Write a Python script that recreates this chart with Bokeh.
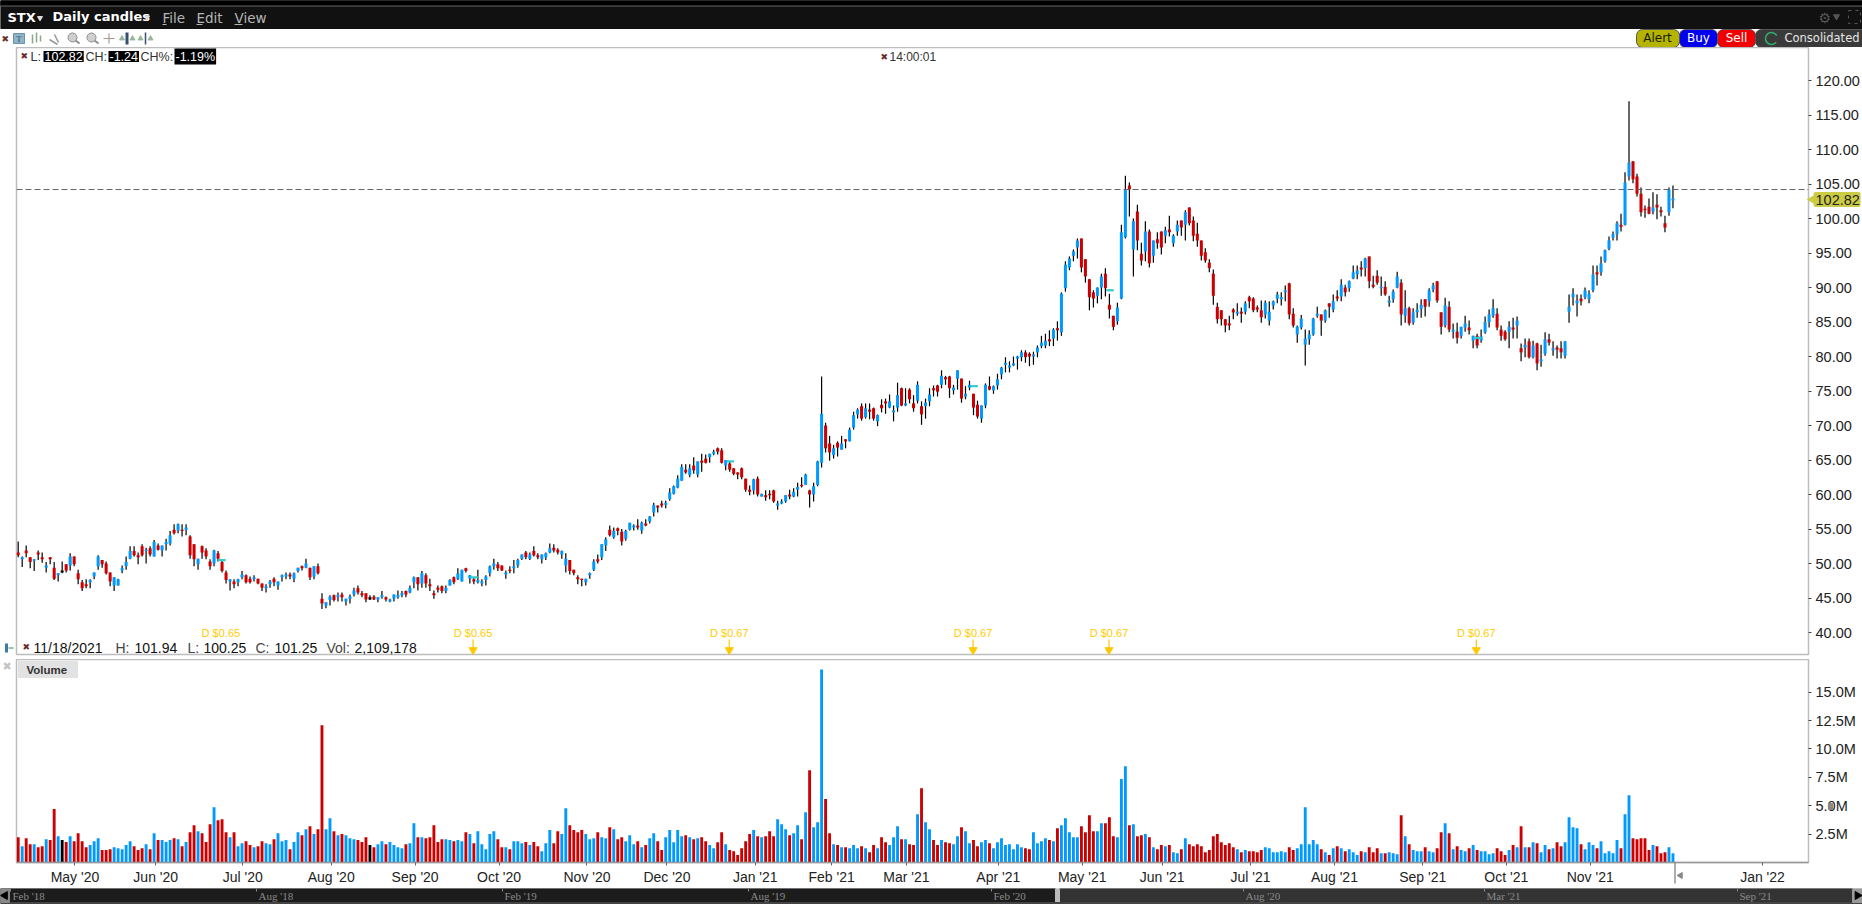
from bokeh.embed import file_html
from bokeh.layouts import column
from bokeh.models import Range1d, FixedTicker, Label, Span
from bokeh.plotting import figure
from bokeh.resources import INLINE
from bokeh.core.properties import value

# ---------------------------------------------------------------- data
body_top = [
51.6,50.9,51.9,50.9,50.6,51.6,50.9,49.7,50.9,49.4,
48.6,49.0,49.9,51.0,51.0,48.6,47.3,47.0,47.6,48.7,
51.0,50.5,50.0,48.7,48.0,47.7,49.3,50.2,51.8,51.8,
51.2,52.5,52.0,52.2,53.1,52.6,52.6,53.1,54.1,54.9,
55.7,54.9,55.2,53.9,52.8,50.7,52.5,51.9,50.3,51.9,
51.5,50.2,48.7,47.7,47.4,47.7,48.4,48.3,47.8,48.0,
47.8,47.1,46.7,47.4,47.8,47.4,48.3,48.4,48.4,48.6,
49.4,49.6,50.0,49.4,49.6,49.6,44.9,44.4,45.2,45.4,
45.4,45.5,44.9,45.2,46.1,46.4,45.7,45.7,45.1,45.2,
45.1,45.4,45.1,44.8,45.5,45.4,45.7,46.0,46.5,48.0,
48.0,48.6,48.3,47.0,45.7,46.5,46.7,46.5,47.6,48.0,
48.6,49.1,49.3,48.3,47.7,47.6,47.4,48.1,49.6,50.0,
49.9,49.7,48.7,49.1,49.6,50.5,51.3,51.6,51.3,51.8,
51.2,51.3,51.5,52.2,52.3,52.0,51.8,50.7,50.5,49.1,
48.0,47.8,47.8,48.6,50.3,50.6,52.8,53.5,54.9,54.7,
55.1,54.6,54.7,55.9,55.5,55.5,55.9,55.8,56.8,58.5,
58.4,58.7,58.8,60.3,61.2,62.3,64.0,63.6,63.8,64.2,
64.8,64.9,65.2,65.9,66.2,66.7,66.4,65.0,64.5,63.8,
63.2,63.8,62.3,60.7,62.2,62.3,60.1,59.9,60.1,60.6,
58.7,59.0,59.9,60.0,60.4,61.1,61.4,62.9,60.6,61.2,
64.8,71.7,70.0,67.4,66.7,67.5,67.4,68.0,69.4,71.5,
72.3,72.8,72.5,72.3,72.5,71.5,73.0,73.5,73.5,72.2,
74.4,75.4,73.2,75.2,73.2,75.9,72.8,73.3,74.5,75.4,
75.8,77.2,77.0,77.1,75.5,78.0,76.8,74.6,75.9,74.6,
73.0,72.9,75.9,75.7,75.7,76.7,78.4,79.1,78.7,79.0,
80.0,80.6,80.6,80.4,80.3,81.3,82.0,82.3,82.5,83.9,
84.1,89.1,93.3,94.2,95.2,96.8,97.1,94.1,91.2,89.3,
90.0,91.6,92.0,87.5,85.9,87.1,98.0,104.2,104.8,99.6,
101.0,94.9,98.1,98.1,96.8,97.0,98.1,98.3,98.4,97.5,
99.1,99.7,100.9,101.6,99.7,97.8,96.8,95.1,93.6,92.0,
87.2,86.7,85.4,84.8,86.8,86.5,86.5,87.7,88.6,88.4,
87.1,86.7,87.8,86.5,88.0,89.0,88.6,89.6,90.6,86.2,
84.3,85.5,82.6,83.2,85.5,86.2,86.1,86.7,87.7,88.0,
88.7,90.4,90.0,90.9,92.2,92.5,92.9,94.2,94.5,90.4,
91.7,90.1,90.1,88.1,89.4,91.6,90.7,87.0,87.0,86.4,
86.8,87.5,88.3,89.6,90.3,90.9,86.4,87.4,87.2,83.9,
83.6,84.3,84.8,84.2,83.0,83.0,82.9,85.0,86.1,87.0,
86.2,83.9,83.6,84.3,84.2,85.2,81.2,81.7,82.2,81.6,
81.9,79.6,82.5,82.5,81.2,81.3,81.2,82.2,87.2,89.1,
88.1,88.4,89.6,89.1,91.9,92.2,93.5,95.4,96.8,97.7,
99.3,99.1,105.2,108.1,108.3,106.1,103.6,101.4,101.7,101.6,
102.0,101.2,99.3,104.2,102.9]
body_bottom = [
51.2,50.6,51.5,50.2,50.4,51.3,50.6,49.4,50.6,47.8,
48.3,48.7,49.0,49.7,49.9,47.7,46.4,46.7,47.3,48.1,
49.6,49.9,48.6,47.4,46.8,46.8,49.0,49.6,50.7,51.2,
50.9,51.2,51.8,51.3,51.0,52.0,51.9,52.8,52.9,54.4,
54.8,54.7,54.9,51.2,50.6,49.9,51.6,51.0,49.6,50.0,
50.7,48.9,47.6,47.4,47.0,47.3,48.0,47.3,47.3,47.7,
47.1,46.5,46.4,47.0,47.3,46.8,48.0,48.1,48.1,47.8,
48.9,49.3,49.4,48.0,48.1,48.6,44.2,43.9,44.7,44.7,
45.1,45.1,44.5,44.9,45.5,45.8,45.4,44.8,44.8,44.8,
44.8,45.1,44.8,44.5,44.9,45.1,45.4,45.5,45.8,47.3,
47.0,47.1,47.1,46.7,45.4,46.2,46.0,46.0,46.8,47.3,
47.7,47.4,48.9,47.8,47.4,47.3,47.1,47.6,48.6,49.6,
49.3,49.0,48.4,48.9,49.3,49.7,50.7,50.9,50.7,51.2,
50.9,50.6,50.9,51.6,51.9,51.6,51.3,49.7,48.9,48.6,
47.7,47.6,47.3,48.3,49.1,50.3,50.9,52.6,54.1,53.8,
54.7,53.2,53.6,54.9,55.2,55.2,54.8,55.5,56.1,57.4,
58.1,58.4,58.5,59.3,60.1,61.0,62.0,63.2,62.8,63.5,
62.9,64.6,64.6,65.4,65.9,66.2,64.6,64.2,63.6,63.0,
62.9,62.5,60.7,60.4,60.6,60.0,59.7,59.6,59.9,59.0,
58.4,58.7,59.0,59.7,59.7,60.7,61.2,61.4,60.0,60.0,
61.4,64.6,66.7,66.1,65.7,66.8,66.5,67.7,67.7,69.7,
71.6,71.0,71.2,72.0,71.0,70.6,72.5,73.2,72.6,71.9,
72.6,72.9,72.9,73.8,72.5,73.6,71.6,72.8,73.5,75.1,
74.9,75.9,76.7,75.4,75.1,76.8,73.9,74.2,75.5,72.6,
71.3,71.0,72.9,75.2,75.1,75.8,77.4,78.8,78.4,78.7,
79.7,79.9,79.9,80.0,80.0,80.6,81.5,81.6,82.2,82.6,
83.8,83.5,89.9,92.9,94.6,95.8,92.9,91.6,88.6,88.4,
88.8,90.0,89.9,86.8,84.3,85.1,88.4,97.3,104.2,95.5,
96.8,93.9,95.2,93.5,94.6,96.4,95.8,97.5,98.0,96.4,
98.1,98.7,99.1,99.3,97.5,96.8,94.6,93.9,92.8,88.8,
85.4,85.4,84.5,84.5,86.4,86.2,86.2,86.5,88.0,86.7,
86.8,85.7,86.1,85.2,87.4,88.4,88.3,89.3,86.1,84.5,
83.2,84.2,81.7,82.5,83.2,85.9,85.2,85.2,87.2,86.8,
88.4,88.7,89.3,89.9,91.3,91.9,92.6,92.8,90.9,90.1,
90.7,89.9,89.0,87.8,88.3,90.0,86.1,85.9,84.8,84.9,
86.4,86.9,87.2,88.0,89.7,88.1,84.3,84.5,83.9,83.6,
82.7,83.0,84.2,83.8,82.3,81.6,82.3,83.5,85.0,85.9,
84.2,83.0,82.5,83.6,83.9,84.5,80.6,81.3,79.9,79.9,
79.0,79.3,80.4,82.0,80.9,81.0,80.6,80.1,86.5,88.6,
87.7,88.0,88.6,88.3,89.6,91.9,92.2,93.8,95.6,97.2,
97.7,98.8,99.1,106.1,105.7,103.6,100.9,101.2,100.7,101.0,
101.6,100.9,98.7,100.9,102.6]
highs = [
53.2,51.0,52.6,50.9,50.6,51.9,51.6,50.2,50.9,50.2,
48.6,50.3,49.9,51.5,51.0,49.1,47.6,47.7,47.7,48.7,
51.2,50.5,50.3,48.7,48.0,47.8,49.7,51.0,52.5,52.5,
51.6,52.8,52.3,52.5,53.4,52.9,52.6,53.6,54.7,55.7,
55.8,55.7,55.7,54.1,52.8,50.7,52.6,52.2,50.6,52.0,
51.8,50.5,49.0,47.7,47.7,47.8,48.9,48.4,48.1,48.3,
47.8,47.1,47.0,47.6,48.0,47.4,48.4,48.7,48.7,48.7,
49.4,49.7,50.7,49.4,49.6,50.0,45.7,44.4,45.4,45.5,
45.8,45.8,44.9,45.5,46.5,46.8,46.0,45.7,45.4,45.4,
45.1,46.0,45.2,44.9,45.5,46.1,46.0,46.1,46.8,48.1,
48.0,48.9,48.6,47.8,46.1,46.8,46.8,46.8,47.7,48.1,
49.3,49.1,49.4,48.3,48.0,49.1,47.7,48.3,49.7,50.7,
50.2,49.7,49.0,49.6,50.5,50.7,51.3,51.8,51.6,52.5,
51.5,51.3,51.6,52.9,52.8,52.2,51.9,51.5,50.5,49.1,
48.3,47.8,47.8,48.7,50.6,51.3,52.8,53.8,55.5,55.2,
55.2,55.0,54.9,55.9,55.7,56.4,56.1,56.4,56.9,58.8,
58.4,59.1,59.1,60.9,61.3,62.8,64.4,64.4,64.4,65.4,
64.8,65.9,65.8,65.9,66.5,66.8,66.7,65.0,64.8,63.8,
63.2,63.9,62.3,61.3,62.3,62.6,60.1,60.6,60.6,60.7,
59.1,59.3,59.9,60.7,60.9,61.7,62.5,63.0,60.7,61.7,
64.9,77.1,70.4,68.5,67.2,67.7,68.5,68.0,69.7,72.0,
72.5,73.2,73.2,73.2,72.6,71.6,73.8,73.9,74.5,72.9,
76.2,75.5,75.4,75.4,74.4,76.4,73.5,73.9,75.4,75.8,
75.9,78.0,77.2,77.2,75.9,78.0,76.8,75.7,76.5,74.6,
73.6,72.9,76.1,77.1,75.8,77.5,78.5,79.9,79.3,80.0,
80.1,80.9,80.9,80.6,80.7,81.6,83.0,83.3,83.8,84.1,
85.1,89.3,93.8,94.5,95.5,97.1,97.1,94.1,91.2,89.6,
90.0,92.0,92.8,89.1,85.9,87.8,99.1,106.2,105.2,100.0,
102.0,96.5,99.6,98.4,96.8,98.0,98.1,98.8,100.4,97.7,
99.7,99.7,101.2,101.6,100.3,99.4,96.8,95.7,94.1,92.6,
87.8,86.7,85.4,85.9,87.0,87.7,87.1,88.0,88.8,88.6,
87.4,88.1,88.1,88.0,88.1,89.4,89.3,90.3,90.7,87.0,
84.5,86.0,83.9,83.8,85.6,87.2,86.1,86.8,87.7,89.0,
89.6,91.2,90.4,91.0,93.2,93.2,93.8,94.3,94.5,91.7,
92.5,91.6,90.9,88.8,89.7,92.3,91.2,89.6,87.2,87.0,
87.7,88.3,88.3,89.9,90.7,90.9,86.4,88.5,88.0,84.8,
84.9,84.3,85.9,85.2,83.0,83.3,83.9,85.8,86.8,88.3,
87.0,84.5,83.8,85.1,85.6,85.8,81.9,82.6,82.6,82.3,
82.0,81.7,83.5,83.3,82.2,81.6,82.2,82.2,89.0,89.9,
89.0,89.0,90.0,89.6,93.2,93.2,94.5,95.5,97.4,98.1,
99.6,100.7,106.7,117.0,108.3,106.5,104.5,101.9,102.9,103.8,
103.5,101.7,100.4,104.5,104.8]
lows = [
50.9,49.5,50.9,49.3,48.9,50.5,50.1,48.7,49.9,47.6,
47.4,48.6,48.7,49.0,49.6,47.0,46.0,46.4,46.4,47.7,
49.1,49.4,48.4,46.7,46.0,46.8,48.6,49.1,50.6,51.0,
49.9,51.0,50.0,51.0,51.0,51.9,51.0,51.9,52.6,54.2,
54.4,53.9,54.1,50.7,49.6,49.1,50.7,50.6,49.1,49.6,
50.3,48.7,47.1,46.1,46.4,46.7,47.7,47.1,47.1,47.4,
47.0,46.0,45.8,46.5,46.7,46.2,47.4,47.7,47.7,47.3,
48.7,49.0,49.3,47.6,47.7,48.4,43.4,43.5,43.9,44.5,
44.5,44.5,43.9,44.2,45.2,45.5,45.1,44.4,44.7,44.7,
44.4,44.9,44.5,44.4,44.5,44.9,45.1,45.1,45.7,46.4,
46.1,46.5,46.5,46.0,44.9,45.8,45.7,45.7,46.8,47.0,
47.6,47.4,48.7,47.1,47.0,47.1,46.7,46.8,48.1,49.1,
48.9,48.9,47.8,48.6,48.6,49.4,50.5,50.6,50.5,51.0,
50.6,50.0,50.5,51.5,51.6,51.3,50.7,48.7,48.4,48.3,
47.0,46.7,46.8,47.8,48.9,50.0,50.5,51.8,53.9,53.6,
54.1,52.6,53.3,54.8,54.8,54.9,54.3,55.4,55.8,56.8,
57.4,58.1,58.0,59.1,60.0,60.9,62.0,63.0,62.5,63.0,
62.5,63.3,64.5,64.6,65.7,65.8,64.5,63.5,63.3,62.8,
62.2,62.2,60.4,59.9,60.0,59.7,59.7,59.1,59.3,58.8,
57.8,58.6,58.8,59.3,59.6,59.7,61.0,61.4,58.1,59.0,
61.2,63.9,66.1,64.9,65.2,65.5,66.5,66.7,67.7,69.4,
71.0,70.7,71.0,70.9,70.7,69.9,71.9,71.7,72.5,70.6,
72.0,72.8,72.8,73.2,72.0,73.2,70.1,71.0,72.8,74.2,
74.2,75.4,75.9,74.0,74.5,75.2,73.3,73.8,75.1,71.5,
71.0,70.4,72.5,75.1,74.6,75.2,76.7,77.7,77.7,78.6,
78.1,79.3,79.1,78.6,78.8,79.9,81.2,81.2,81.5,81.5,
82.3,83.0,89.4,92.5,93.8,94.2,92.2,90.7,86.7,87.1,
87.7,88.3,88.7,85.5,83.8,84.6,88.3,97.1,100.3,91.6,
95.4,93.2,93.8,92.9,93.6,95.6,94.8,96.4,97.4,95.9,
97.5,97.5,96.8,99.0,96.7,95.9,93.9,93.6,92.2,87.5,
84.8,84.5,83.5,83.8,85.4,85.9,84.9,86.1,87.0,86.4,
86.4,84.9,85.5,84.5,86.8,87.7,87.4,88.0,85.4,84.2,
82.0,83.9,78.7,81.7,83.0,85.6,83.0,84.9,85.6,86.4,
88.0,88.0,88.7,89.4,91.2,91.2,91.6,91.6,89.9,89.9,
90.4,88.8,88.8,87.2,87.8,89.9,84.5,84.9,84.5,84.6,
85.6,85.6,85.8,87.2,89.3,87.8,83.2,84.2,83.5,82.6,
81.9,82.6,83.6,83.2,81.2,81.2,82.0,83.3,84.2,85.6,
83.8,82.3,82.3,81.2,82.6,82.6,79.3,79.9,79.7,79.7,
78.0,78.5,80.1,81.6,80.1,79.7,79.7,79.7,84.9,87.4,
85.8,87.4,88.3,87.7,89.3,90.3,91.7,93.6,95.4,96.8,
96.8,98.1,99.0,105.5,105.1,103.2,100.3,100.1,100.6,100.6,
99.9,100.3,98.0,100.4,101.5]
updown = ("RBRRBRRBRR" "BFRBRRRRBB" "BRRRBBBBBR" "RRBRBRBBBR" "BRBRRBRRRB" "RRRBRBBRRB" "RRBBRBBBRB"
          "BRBRBRRBBR" "BRBBBRRRFR" "BBRBBBBRBB" "RBRRRRRBBR" "BBRBRBBBBB" "RRBRBBBRBR" "RBBBRRBBRR"
          "RRBBBRBBRB" "RRBBBRBRBB" "RRBBBBBRBR" "BRRBBRRBRR" "RRRRBRBRRR" "BBBRBBRBRB" "BBRRBRBRBB"
          "BRBRRBRRBB" "BRBRRBRBBR" "RBRRBBRBBR" "RBBRBBBBBB" "BBRRBBBBRB" "RBBBBBRRRR" "BBRRRBBBRB"
          "RRBRBRRBRB" "BRBRRRRRRR" "RRRRRBRBRR" "RRBBBBBBRR" "BBBBBBRBRB" "RBRBBBRBRR" "RBRBBBRBRB"
          "BBRBBRRBRB" "RBBRBRBBBB" "RRRBRBRBRB" "RBBRBRRBBB" "BRBBBRBBBB" "BRBBRRRRRB" "RRRBB")
volume_m = [
2.23,1.44,2.14,1.6,1.6,1.35,1.44,2.05,1.97,4.7,
2.3,1.97,1.8,2.3,1.88,2.58,1.88,1.35,1.53,1.88,
2.14,1.09,1.09,1.17,1.35,1.26,1.17,1.53,1.88,1.44,
1.09,1.26,1.6,1.17,2.58,1.97,1.97,1.8,1.97,2.14,
2.05,1.44,1.8,2.67,3.29,2.76,2.58,1.8,3.37,4.87,
3.73,3.81,2.67,2.23,2.67,1.44,1.7,1.88,1.53,1.35,
1.44,1.88,1.7,1.6,2.05,2.58,1.88,1.97,1.17,1.8,
2.67,2.4,2.93,3.2,2.5,2.93,12.09,2.93,3.9,2.76,
2.4,2.5,2.4,2.14,2.05,1.97,1.8,2.23,1.53,1.35,
1.6,1.88,1.6,1.8,1.53,1.35,1.26,1.6,1.7,3.46,
2.23,2.23,2.14,2.23,3.29,1.8,2.05,2.05,1.97,1.88,
1.97,1.88,2.67,2.5,1.7,2.76,1.6,1.17,2.5,2.76,
2.05,1.35,1.35,1.17,1.88,1.88,1.7,1.8,1.53,1.8,
1.44,1.0,1.7,2.85,1.7,2.76,2.5,4.78,3.29,2.85,
2.67,2.85,2.5,2.05,2.14,2.67,2.23,2.14,3.11,2.93,
2.05,2.23,1.88,2.4,1.6,1.88,1.35,1.53,2.14,2.58,
1.88,1.09,2.23,2.85,1.79,2.85,2.32,2.4,2.23,2.05,
2.14,2.23,1.88,1.53,1.26,1.79,2.67,1.6,1.09,1.0,
0.65,1.26,1.88,2.5,2.85,2.32,2.23,2.32,2.76,2.32,
3.81,3.37,2.93,2.4,2.58,3.29,2.05,4.43,8.13,3.11,
3.55,17.0,5.58,2.58,1.6,1.53,1.35,1.35,1.26,1.53,
1.26,1.44,1.26,0.91,1.53,1.26,2.23,1.79,1.53,2.23,
3.2,2.05,2.05,1.6,1.53,4.25,6.54,3.55,2.93,1.97,
1.53,1.97,1.79,1.7,1.6,2.32,3.11,2.76,1.7,1.97,
1.44,1.79,1.97,1.7,1.26,1.79,2.14,1.53,1.6,1.17,
1.6,1.35,1.26,1.17,2.67,1.7,1.88,2.14,1.97,1.88,
3.02,3.29,3.9,2.67,2.23,2.23,3.2,2.67,4.17,2.76,
2.76,3.46,3.46,3.99,2.32,2.23,7.34,8.48,3.29,3.37,
2.32,2.4,2.5,2.23,1.35,1.17,1.53,1.44,1.53,0.91,
0.82,1.17,2.14,1.6,1.44,1.6,1.44,0.91,1.09,2.32,
2.5,1.79,1.53,1.7,1.35,1.17,0.91,1.09,1.0,1.0,
0.91,1.09,1.35,1.26,0.91,0.91,1.0,0.91,1.35,1.09,
1.26,1.61,4.87,1.61,1.97,1.61,1.17,0.91,0.65,1.26,
1.44,1.26,1.0,1.17,0.91,0.65,1.0,0.91,1.35,0.91,
1.26,0.82,0.82,0.91,0.82,0.73,4.17,2.32,1.61,1.09,
1.0,1.0,1.35,1.0,0.91,1.26,2.67,3.46,2.58,1.17,
1.44,1.09,1.0,1.26,1.53,1.09,1.0,1.0,0.73,0.82,
1.26,1.0,0.65,1.09,1.53,1.35,3.2,1.35,1.35,1.79,
1.7,0.91,1.53,1.17,1.26,1.79,1.44,1.79,3.99,3.11,
3.02,1.61,1.17,1.79,1.53,1.26,1.88,0.82,1.0,0.82,
1.97,1.26,4.25,5.93,2.14,2.05,2.14,2.14,1.09,1.53,
1.44,0.82,0.91,1.35,0.82]
month_ticks = [14.2,34.4,56.2,78.3,99.3,120.3,142.3,162.3,184.4,203.5,222.2,245.2,266.2,286.2,308.3,329.3,351.4,372.3,393.3,436.4]
month_labels = ["May '20","Jun '20","Jul '20","Aug '20","Sep '20","Oct '20","Nov '20","Dec '20","Jan '21","Feb '21","Mar '21","Apr '21","May '21","Jun '21","Jul '21","Aug '21","Sep '21","Oct '21","Nov '21","Jan '22"]
dividend_bars = [50.7,113.8,177.9,238.9,272.9,364.8]
dividend_labels = ["D $0.65","D $0.65","D $0.67","D $0.67","D $0.67","D $0.67"]
dividend_marks = [50.5,48.0,64.8,75.7,89.6,82.7]
price_ticks = [40,45,50,55,60,65,70,75,80,85,90,95,100,105,110,115,120]
volume_ticks = [2.5,5.0,7.5,10.0,12.5,15.0]
previous_close = 104.2
last_price = 102.82
overview_ticks = [("Feb '18",12),("Aug '18",258),("Feb '19",504),("Aug '19",750),("Feb '20",993),("Aug '20",1245),("Mar '21",1486),("Sep '21",1739)]

BLUE, RED = "#0099ff", "#cc0000"
n = len(body_top)
assert n == len(body_bottom) == len(highs) == len(lows) == len(volume_m) == len(updown), (n, len(body_bottom), len(highs), len(lows), len(volume_m), len(updown))
colors = [{"B": BLUE, "R": RED, "F": "#000000"}[c] for c in updown]
idx = list(range(n))

W = 1862
LEFT, RIGHT = 16, 1808
X0 = (LEFT + 0.6 - 18.3) / 3.9957
X1 = (RIGHT - 18.3) / 3.9957
PX = 6.9      # px per dollar
P_TOP, P_BOT = 47, 654
V_TOP, V_BOT = 659, 862
TXT = "Liberation Sans"


def chrome(height, y0, **kw):
    f = figure(width=W, height=height, x_range=Range1d(0, W), y_range=Range1d(y0 + height, y0),
               output_backend="svg", toolbar_location=None, min_border=0, outline_line_color=None,
               frame_align=False, **kw)
    f.axis.visible = False
    f.grid.visible = False
    return f


def tx(f, x, y, s, color="#222222", size="13px", align="left", style="normal", font=TXT):
    f.text([x], [y], text=[s], text_color=color, text_font=value(font), text_font_size=size,
           text_align=align, text_baseline="middle", text_font_style=style)


# ---------------------------------------------------------------- header
h = chrome(47, 0)
h.background_fill_color = "#ffffff"
h.quad(left=[0], right=[W], top=[0], bottom=[28], color="#111111")
h.quad(left=[0], right=[W], top=[0], bottom=[5], color="#000000")
h.segment([0], [5.5], [W], [5.5], line_color="#666666", line_width=1)
tx(h, 7, 17, "STX", "#ffffff", "13px", style="bold", font="DejaVu Sans")
h.scatter([39.5], [17.5], marker="inverted_triangle", size=5, color="#dddddd")
tx(h, 52, 16, "Daily candles", "#ffffff", "13px", style="bold", font="DejaVu Sans")
h.scatter([146.5], [17], marker="inverted_triangle", size=5, color="#dddddd")
for x, s, w in [(162, "File", 4), (196, "Edit", 6), (234, "View", 8)]:
    tx(h, x, 17, s, "#b5b5b5", "13.5px", font="DejaVu Sans")
    h.segment([x], [24], [x + w], [24], line_color="#b5b5b5")
tx(h, 1818, 17, "⚙", "#555555", "14px", font="DejaVu Sans")
h.scatter([1836], [16], marker="inverted_triangle", size=6, color="#555555")
h.quad(left=[1848], right=[1860], top=[10], bottom=[23], fill_color=None, line_color="#555555", line_dash="3 4")
# toolbar icons
tx(h, 1, 38, "✖", "#6b2a2a", "9px", font="DejaVu Sans")
h.quad(left=[13], right=[24], top=[33], bottom=[43], fill_color="#8db4c8", line_color="#6b93a8")
tx(h, 18.5, 38, "T", "#35566a", "9px", "center", font="Liberation Serif")
h.segment([32, 36, 40], [34, 32, 35], [32, 36, 40], [43, 42, 41], line_color="#8aa890", line_width=1.5)
h.segment([49, 54], [39, 34], [57, 58], [44, 42], line_color="#999999", line_width=1.5)
h.scatter([72, 91], [37, 37], marker="circle", size=9, fill_color="#cfcfcf", line_color="#8f8f8f")
h.segment([75, 94], [40, 40], [79, 98], [43, 43], line_color="#8f8f8f", line_width=2)
h.segment([103, 108.5], [38, 33], [114, 108.5], [38, 43], line_color="#a89a8c", line_width=1.2)
h.segment([126.5], [32], [126.5], [44], line_color="#35506e", line_width=3)
h.segment([145], [32], [145], [44], line_color="#35506e", line_width=1.5)
h.scatter([121.5, 132, 140, 150], [38] * 4, marker="triangle", size=5, color="#9ab59a")
# order buttons
for l, r, c in [(1636, 1679, "#b4b400"), (1679, 1717, "#0000ee"), (1717, 1755, "#f00000"), (1755, 1870, "#3a3a3a")]:
    h.quad(left=[l], right=[r], top=[29], bottom=[47], fill_color=c, line_color="#555555", border_radius=6)
tx(h, 1657, 37.5, "Alert", "#1a1a00", "12px", "center", font="DejaVu Sans")
tx(h, 1698, 37.5, "Buy", "#ffffff", "12px", "center", font="DejaVu Sans")
tx(h, 1736, 37.5, "Sell", "#ffffff", "12px", "center", font="DejaVu Sans")
h.arc([1771], [38], radius=6, start_angle=0.5, end_angle=5.6, line_color="#2fae6e", line_width=1.5)
tx(h, 1784, 37.5, "Consolidated", "#e6e6e6", "11.5px", font="DejaVu Sans")

# ---------------------------------------------------------------- price pane
price = figure(width=W, height=V_TOP - P_TOP, x_range=Range1d(X0, X1),
               y_range=Range1d(120 - (P_BOT - 80) / PX, 120 + (80 - P_TOP) / PX),
               output_backend="svg", toolbar_location=None, y_axis_location="right",
               min_border_left=LEFT, min_border_right=W - RIGHT, min_border_top=0, min_border_bottom=V_TOP - P_BOT,
               frame_height=P_BOT - P_TOP, frame_width=RIGHT - LEFT,
               outline_line_color="#bdbdbd", outline_line_width=1.5)
price.xaxis.visible = False
price.grid.visible = False
ax = price.yaxis[0]
ax.ticker = FixedTicker(ticks=price_ticks)
ax.major_label_overrides = {t: f"{t:.2f}" for t in price_ticks}
ax.major_label_text_font = TXT
ax.major_label_text_font_size = "14.5px"
ax.major_label_text_color = "#222222"
ax.major_label_standoff = 4
ax.axis_line_color = None
ax.major_tick_in = 0
ax.major_tick_out = 3
ax.major_tick_line_color = "#444444"
ax.minor_tick_line_color = None

price.add_layout(Span(location=previous_close, dimension="width", line_color="#666666", line_dash="6 3", line_width=1))
price.segment(idx, lows, idx, highs, line_color="#000000", line_width=1.2)
price.vbar(x=idx, width=0.76, top=body_top, bottom=body_bottom, fill_color=colors, line_color=None)
price.segment([b - 0.7 for b in dividend_bars], dividend_marks, [b + 1.2 for b in dividend_bars], dividend_marks,
              line_color="#33cccc", line_width=2.2)
# dividend flags
dy = 120 - (632 - 80) / PX
price.text(dividend_bars, [dy] * 6, text=dividend_labels, text_color="#ffcc00", text_font=value(TXT),
           text_font_size="11px", text_align="center", text_baseline="middle")
ay0, ay1 = 120 - (639 - 80) / PX, 120 - (654 - 80) / PX
price.segment(dividend_bars[1:], [ay0] * 5, dividend_bars[1:], [ay1] * 5, line_color="#ffc800", line_width=1.2)
price.scatter(dividend_bars[1:], [120 - (649.5 - 80) / PX] * 5, marker="inverted_triangle", size=8, color="#ffc800")


def label(fig, fl, fb, x, y, s, color="#222222", size="13.5px", bg=None, style="normal", align="left", font=TXT, pad=0):
    fig.add_layout(Label(x=x - fl, y=fb - y, x_units="screen", y_units="screen", text=s, text_color=color,
                         text_font=font, text_font_size=size, text_baseline="middle", text_align=align,
                         text_font_style=style, background_fill_color=bg, padding=pad))


lp = lambda *a, **k: label(price, LEFT, P_BOT, *a, **k)
lp(20, 55, "✖", "#6b2a2a", "9px", font="DejaVu Sans")
lp(30, 56, "L:", "#333333", "12.5px")
lp(43, 56, "102.82", "#ffffff", "12.5px", bg="#000000", pad=1)
lp(85, 56, "CH:", "#333333", "12.5px")
lp(108, 56, "-1.24", "#ffffff", "12.5px", bg="#000000", pad=1)
lp(140, 56, "CH%:", "#333333", "12.5px")
lp(174, 56, "-1.19%", "#ffffff", "12.5px", bg="#000000", pad=1)
lp(880, 56, "✖", "#6b2a2a", "9px", font="DejaVu Sans")
lp(889, 56, "14:00:01", "#333333", "12px")
lp(22, 646, "✖", "#6b2a2a", "9px", font="DejaVu Sans")
for x, s, c in [(33, "11/18/2021", "#111111"), (115, "H:", "#444444"), (134, "101.94", "#111111"),
                (187, "L:", "#444444"), (203, "100.25", "#111111"), (255, "C:", "#444444"),
                (274, "101.25", "#111111"), (326, "Vol:", "#444444"), (354, "2,109,178", "#111111")]:
    lp(x, 647, s, c, "14px")

# ---------------------------------------------------------------- volume pane
vol = figure(width=W, height=888 - V_TOP, x_range=price.x_range, y_range=Range1d(0, (V_BOT - V_TOP) / 11.36),
             output_backend="svg", toolbar_location=None, y_axis_location="right",
             min_border_left=LEFT, min_border_right=W - RIGHT, min_border_top=0, min_border_bottom=888 - V_BOT,
             frame_height=V_BOT - V_TOP, frame_width=RIGHT - LEFT,
             outline_line_color="#bdbdbd", outline_line_width=1.5)
vol.grid.visible = False
ay = vol.yaxis[0]
ay.ticker = FixedTicker(ticks=volume_ticks)
ay.major_label_overrides = {t: f"{t:.1f}M" for t in volume_ticks}
ay.major_label_text_font = TXT
ay.major_label_text_font_size = "14.5px"
ay.major_label_text_color = "#222222"
ay.major_label_standoff = 4
ay.axis_line_color = None
ay.major_tick_in = 0
ay.major_tick_out = 3
ay.major_tick_line_color = "#444444"
ay.minor_tick_line_color = None
xa = vol.xaxis[0]
xa.ticker = FixedTicker(ticks=month_ticks)
xa.major_label_overrides = dict(zip(month_ticks, month_labels))
xa.major_label_text_font = TXT
xa.major_label_text_font_size = "14px"
xa.major_label_text_color = "#222222"
xa.major_label_standoff = 3
xa.axis_line_color = "#999999"
xa.axis_line_width = 1.5
xa.major_tick_in = 0
xa.major_tick_out = 3
xa.major_tick_line_color = "#666666"
xa.minor_tick_line_color = None
vol.vbar(x=idx, width=0.72, top=volume_m, bottom=0, fill_color=colors, line_color=None)

# ---------------------------------------------------------------- overview strip
foot = chrome(16, 888)
foot.background_fill_color = "#ffffff"
foot.quad(left=[0], right=[1055], top=[888], bottom=[902], color="#1c1c1c")
foot.quad(left=[1059], right=[1852], top=[888], bottom=[902], color="#333333")
foot.quad(left=[1055], right=[1059], top=[888], bottom=[902], color="#bbbbbb")
foot.quad(left=[0], right=[W], top=[902], bottom=[904], color="#444444")
foot.quad(left=[0], right=[9], top=[888], bottom=[902], color="#888888")
foot.scatter([4.5], [895], marker="triangle", size=8, angle=1.57, color="#000000")
foot.quad(left=[1852], right=[W], top=[888], bottom=[902], color="#999999")
foot.scatter([1857], [895], marker="triangle", size=8, angle=-1.57, color="#000000")
for s, x in overview_ticks:
    foot.segment([x - 2], [888], [x - 2], [891], line_color="#888888")
    tx(foot, x, 895.5, s, "#8a8a8a", "11px", font="Liberation Serif")

# ---------------------------------------------------------------- transparent overlay for the margins
over = chrome(904, 0, styles={"position": "absolute", "left": "0px", "top": "0px", "pointer-events": "none"})
over.background_fill_color = None
over.border_fill_color = None
over.quad(left=[1813], right=[1860], top=[191.5], bottom=[206.5], fill_color="#cccc44", line_color=None, border_radius=2)
over.scatter([1811], [199], marker="triangle", size=7, angle=1.57, color="#cccc44")
tx(over, 1815, 199, f"{last_price:.2f}", "#222222", "14.5px")
over.segment([6], [643], [6], [652], line_color="#3a7ca5", line_width=3)
over.segment([8], [647.5], [13], [647.5], line_color="#2e8b57", line_width=1.2)
tx(over, 2, 666, "✖", "#c4c4c4", "11px", font="DejaVu Sans")
over.quad(left=[18], right=[77], top=[661], bottom=[677], color="#e2e2e2")
tx(over, 26, 669.5, "Volume", "#333333", "11.5px", style="bold")
over.segment([1674.5], [862], [1674.5], [883], line_color="#777777", line_width=1.2)
over.scatter([1680], [875], marker="triangle", size=6, angle=1.57, color="#888888")
over.quad(left=[1828], right=[1832], top=[803], bottom=[809], color="#888888")

page = column(h, price, vol, foot, over, spacing=0)
open("out.html", "w").write(file_html(page, INLINE))
